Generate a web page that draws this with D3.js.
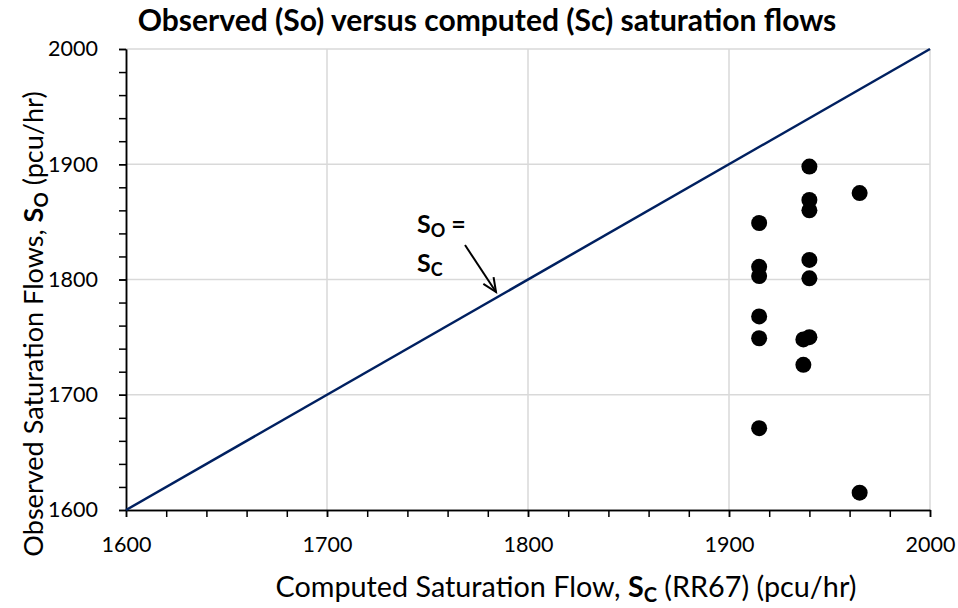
<!DOCTYPE html>
<html>
<head>
<meta charset="utf-8">
<script src="https://cdn.jsdelivr.net/npm/d3@7"></script>
<style>
  html, body { margin: 0; padding: 0; background: #fff; }
  svg { display: block; font-family: Lato, "Liberation Sans", sans-serif; }
</style>
</head>
<body>
<svg id="chart" width="958" height="608"></svg>
<script>
// Computed saturation flow Sc (RR67) and observed saturation flow So, pcu/hr
const computedSc = [1940, 1965, 1940, 1940, 1915, 1940, 1915, 1915, 1940, 1915, 1915, 1937, 1940, 1937, 1915, 1965];
const observedSo = [1898, 1875, 1869, 1860, 1849, 1817, 1811, 1803, 1801, 1768, 1749, 1748, 1750, 1726, 1671, 1615];
const majorTicks = [1600, 1700, 1800, 1900, 2000];
const minorTicks = d3.range(1600, 2001, 20);
const equalityLine = [1600, 2000];

const svg = d3.select("#chart");
const margin = { left: 126, right: 28, top: 49, bottom: 98 };
const W = 958, H = 608;

const x = d3.scaleLinear().domain([1600, 2000]).range([margin.left, W - margin.right]);
const y = d3.scaleLinear().domain([1600, 2000]).range([H - margin.bottom, margin.top]);

// scale a text element's font so it spans the given width; returns the new size
function fitWidth(sel, width) {
  const fs = parseFloat(sel.attr("font-size"));
  const size = fs * width / sel.node().getComputedTextLength();
  setSize(sel, size);
  return size;
}
function setSize(sel, size) {
  sel.attr("font-size", size);
  sel.selectAll("tspan[data-sub]").attr("font-size", size * 0.7);
}

// gridlines
svg.append("g").selectAll("line").data(majorTicks.slice(1)).join("line")
  .attr("x1", d => x(d)).attr("x2", d => x(d))
  .attr("y1", y(1600)).attr("y2", y(2000))
  .attr("stroke", "#d9d9d9").attr("stroke-width", 1.5);
svg.append("g").selectAll("line").data(majorTicks.slice(1)).join("line")
  .attr("y1", d => y(d)).attr("y2", d => y(d))
  .attr("x1", x(1600)).attr("x2", x(2000))
  .attr("stroke", "#d9d9d9").attr("stroke-width", 1.5);

// axes: minor ticks then major ticks with labels
function styleAxis(g) {
  g.select(".domain").attr("stroke", "#000").attr("stroke-width", 1.5);
  g.selectAll(".tick line").attr("stroke", "#000").attr("stroke-width", 1.5);
  g.selectAll("text").attr("font-size", 21.5).attr("fill", "#000").attr("font-family", "Lato, sans-serif");
}
const xMinor = svg.append("g").attr("transform", `translate(0,${y(1600)})`)
  .call(d3.axisBottom(x).tickValues(minorTicks).tickSizeInner(7).tickSizeOuter(0).tickFormat(""));
styleAxis(xMinor);
const xMajor = svg.append("g").attr("transform", `translate(0,${y(1600)})`)
  .call(d3.axisBottom(x).tickValues(majorTicks).tickSizeInner(7).tickSizeOuter(0).tickPadding(20).tickFormat(d3.format("d")));
styleAxis(xMajor);

const yMinor = svg.append("g").attr("transform", `translate(${x(1600)},0)`)
  .call(d3.axisLeft(y).tickValues(minorTicks).tickSizeInner(7).tickSizeOuter(0).tickFormat(""));
styleAxis(yMinor);
const yMajor = svg.append("g").attr("transform", `translate(${x(1600)},0)`)
  .call(d3.axisLeft(y).tickValues(majorTicks).tickSizeInner(7).tickSizeOuter(0).tickPadding(21).tickFormat(d3.format("d")));
styleAxis(yMajor);

// So = Sc line
svg.append("line")
  .attr("x1", x(equalityLine[0])).attr("y1", y(equalityLine[0]))
  .attr("x2", x(equalityLine[1])).attr("y2", y(equalityLine[1]))
  .attr("stroke", "#002060").attr("stroke-width", 2.5);

// observations
svg.append("g").selectAll("circle").data(computedSc.map((c, i) => [c, observedSo[i]])).join("circle")
  .attr("cx", d => x(d[0])).attr("cy", d => y(d[1])).attr("r", 8).attr("fill", "#000");

// title
const title = svg.append("text").attr("x", 487).attr("y", 31).attr("text-anchor", "middle")
  .attr("font-size", 26).attr("font-weight", "bold").text("Observed (So) versus computed (Sc) saturation flows");
fitWidth(title, 699);

// x axis title
const xt = svg.append("text").attr("x", 566).attr("y", 597).attr("text-anchor", "middle").attr("font-size", 26);
xt.append("tspan").text("Computed Saturation Flow, ");
xt.append("tspan").attr("font-weight", "bold").text("S");
xt.append("tspan").attr("data-sub", 1).attr("font-weight", "bold").attr("dy", 5).text("C");
xt.append("tspan").attr("dy", -5).text(" (RR67) (pcu/hr)");
fitWidth(xt, 587);

// y axis title, reading upward from its top end
const ytTop = 88, ytLength = 472;
const yt = svg.append("text").attr("text-anchor", "middle").attr("font-size", 26)
  .attr("transform", `translate(43,${ytTop + ytLength / 2}) rotate(-90)`);
yt.append("tspan").text("Observed Saturation Flows, ");
yt.append("tspan").attr("font-weight", "bold").text("S");
yt.append("tspan").attr("data-sub", 1).attr("font-weight", "bold").attr("dy", 5).text("O");
yt.append("tspan").attr("dy", -5).text(" (pcu/hr)");
fitWidth(yt, ytLength);

// annotation with arrow
const ann = svg.append("g").attr("font-size", 25).attr("font-weight", "bold");
const a1 = ann.append("text").attr("x", 417).attr("y", 233);
a1.append("tspan").text("S");
a1.append("tspan").attr("font-size", 18).attr("dy", 4).text("O");
a1.append("tspan").attr("dy", -4).text(" =");
const a2 = ann.append("text").attr("x", 417).attr("y", 272);
a2.append("tspan").text("S");
a2.append("tspan").attr("font-size", 18).attr("dy", 4).text("C");

const ax0 = 465, ay0 = 245, ax1 = 496, ay1 = 292;
svg.append("line").attr("x1", ax0).attr("y1", ay0).attr("x2", ax1).attr("y2", ay1)
  .attr("stroke", "#000").attr("stroke-width", 2);
const ang = Math.atan2(ay1 - ay0, ax1 - ax0), hl = 15, spread = 0.42;
svg.append("path")
  .attr("d", `M${ax1 - hl * Math.cos(ang - spread)},${ay1 - hl * Math.sin(ang - spread)} L${ax1},${ay1} L${ax1 - hl * Math.cos(ang + spread)},${ay1 - hl * Math.sin(ang + spread)}`)
  .attr("fill", "none").attr("stroke", "#000").attr("stroke-width", 2);
</script>
</body>
</html>
